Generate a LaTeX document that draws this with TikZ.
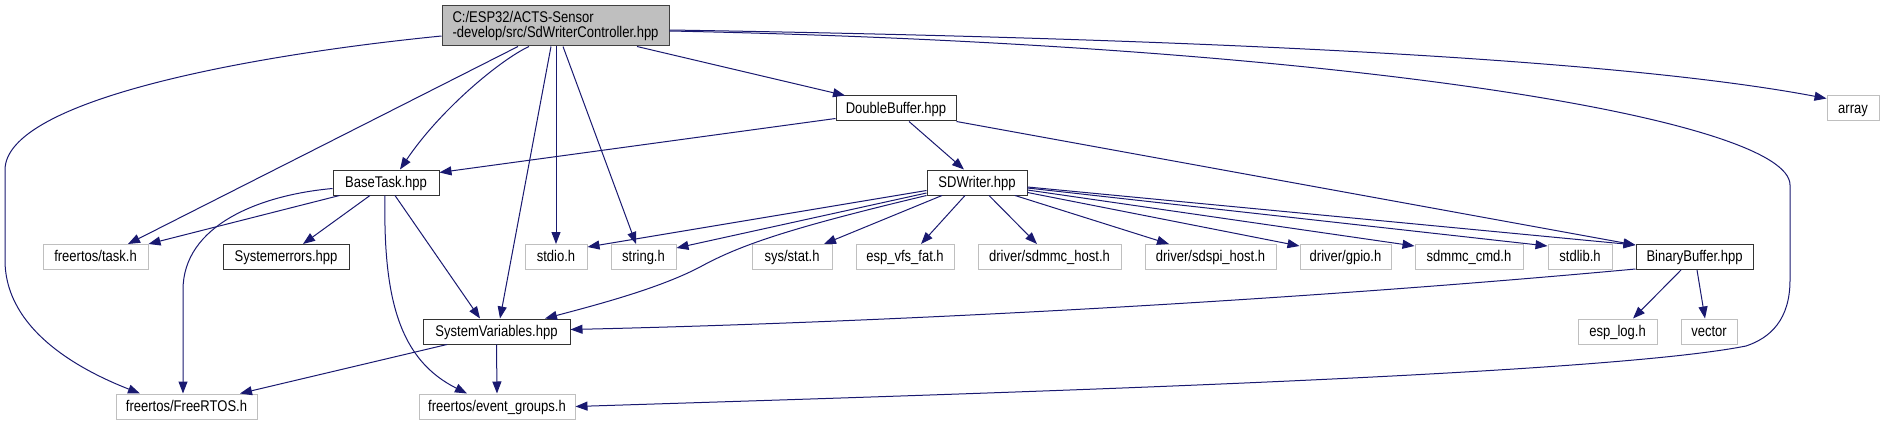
\documentclass[tikz,border=0pt]{standalone}
\usepackage{fontspec}
\newfontfamily\dotfont{Liberation Sans}[FakeStretch=0.84]
\usetikzlibrary{calc,arrows.meta}
\definecolor{edgeblue}{HTML}{191970}
\definecolor{hdrgray}{HTML}{BFBFBF}

\begin{document}
\begin{tikzpicture}[x=1pt,y=-1pt,
  box/.style={draw=hdrgray,line width=1pt,fill=white,inner sep=0pt,minimum height=25pt,
    font=\dotfont\fontsize{15.5}{15.5}\selectfont},
  file/.style={box,text height=11.1pt,text depth=1.5pt},
  own/.style={file,draw=black!80,line width=1pt},
  dep/.style={draw=edgeblue,line width=1pt,-{Triangle[length=12pt,width=9pt]}}]
  \useasboundingbox (0,0) rectangle (1884,425);
  \node[box,draw=black!75,fill=hdrgray,minimum width=227pt,minimum height=40pt,align=left]
    (root) at (555.5,26) {C:/ESP32/ACTS-Sensor\\-develop/src/SdWriterController.hpp};
  \node[own,minimum width=120pt] (dbuf) at (896,108.5) {DoubleBuffer.hpp};
  \node[own,minimum width=106pt] (basetask) at (386,182.5) {BaseTask.hpp};
  \node[own,minimum width=100pt] (sdw) at (977,182.5) {SDWriter.hpp};
  \node[own,minimum width=126pt] (syserr) at (286,257) {Systemerrors.hpp};
  \node[own,minimum width=117pt] (binbuf) at (1694.5,257) {BinaryBuffer.hpp};
  \node[own,minimum width=147pt] (sysvar) at (496.5,331.5) {SystemVariables.hpp};
  \foreach \n/\x/\y/\w/\t in {array/1853/108.5/52/array, taskh/95.5/257/105/{freertos/task.h},
      stdio/556/257/62/stdio.h, string/643.5/257/65/string.h, stat/792/257/80/{sys/stat.h},
      vfs/905/257/98/esp\_vfs\_fat.h, mmchost/1049.5/257/143/{driver/sdmmc\_host.h},
      spihost/1210.5/257/131/{driver/sdspi\_host.h}, gpio/1345.5/257/91/{driver/gpio.h},
      mmccmd/1469/257/108/sdmmc\_cmd.h, stdlib/1580/257/64/stdlib.h,
      esplog/1617.5/331.5/79/esp\_log.h, vector/1709/331.5/56/vector,
      freertos/186.5/406.5/141/{freertos/FreeRTOS.h}, evgroups/497/406.5/156/{freertos/event\_groups.h}}
    \node[file,minimum width=\w pt] (\n) at (\x,\y) {\t};

  \draw[dep] ($(root.east)+(0,4)$) .. controls (1300,40) and (1650,65) .. ($(array.west)+(0,-10)$);
  \draw[dep] ($(root.south)+(81.5,0)$) -- ($(dbuf.north)+(-51,0)$);
  \draw[dep] ($(root.south)+(-26.5,0)$) .. controls (500,60) and (440,110) .. ($(basetask.north)+(14,0)$);
  \draw[dep] ($(root.south)+(-37.5,0)$) -- ($(taskh.north)+(32.5,0)$);
  \draw[dep] ($(root.west)+(0,10)$) .. controls (250,55) and (5,100) .. (5,170) -- (5,260)
    .. controls (5,330) and (80,370) .. ($(freertos.north)+(-46.5,0)$);
  \draw[dep] ($(root.south)+(0.5,0)$) -- (stdio.north);
  \draw[dep] ($(root.south)+(7.5,0)$) -- ($(string.north)+(-7.5,0)$);
  \draw[dep] ($(root.south)+(-4.5,0)$) -- ($(sysvar.north)+(3.5,0)$);
  \draw[dep] ($(root.east)+(0,5)$) .. controls (1350,45) and (1790,120) .. (1790,185) -- (1790,280)
    .. controls (1790,320) and (1770,338) .. (1746,346) .. controls (1600,375) and (1000,393) .. (evgroups.east);

  \draw[dep] ($(dbuf.south west)+(0,-3)$) -- ($(basetask.north east)+(0,3)$);
  \draw[dep] ($(dbuf.south)+(13,0)$) -- ($(sdw.north)+(-13,0)$);
  \draw[dep] (dbuf.south east) -- ($(binbuf.north west)+(0,1)$);

  \draw[dep] ($(basetask.south west)+(7,0)$) -- (taskh.north east);
  \draw[dep] ($(basetask.west)+(0,6)$) .. controls (260,195) and (183,225) .. (183,290) -- ($(freertos.north)+(-3.5,0)$);
  \draw[dep] ($(basetask.south)+(-16,0)$) -- ($(syserr.north)+(17,0)$);
  \draw[dep] ($(basetask.south)+(-1,0)$) .. controls (383,300) and (400,360) .. ($(evgroups.north)+(-30,0)$);
  \draw[dep] ($(basetask.south)+(9,0)$) -- ($(sysvar.north)+(-16.5,0)$);

  \draw[dep] ($(sdw.west)+(0,8)$) -- ($(stdio.north east)+(0,3)$);
  \draw[dep] ($(sdw.west)+(0,10.5)$) -- ($(string.north east)+(0,4)$);
  \draw[dep] (sdw.south west) .. controls (790,228) and (740,245) .. (700,267)
    .. controls (660,288) and (600,304) .. ($(sysvar.north)+(48.5,0)$);
  \draw[dep] ($(sdw.south)+(-35,0)$) -- ($(stat.north)+(32,0)$);
  \draw[dep] ($(sdw.south)+(-12,0)$) -- ($(vfs.north)+(16,0)$);
  \draw[dep] ($(sdw.south)+(12,0)$) -- ($(mmchost.north)+(-12.5,0)$);
  \draw[dep] ($(sdw.south)+(38,0)$) -- ($(spihost.north)+(-41.5,0)$);
  \draw[dep] ($(sdw.south east)+(0,-3)$) -- ($(gpio.north west)+(0,2)$);
  \draw[dep] ($(sdw.east)+(0,7.5)$) -- ($(mmccmd.north west)+(0,2)$);
  \draw[dep] ($(sdw.east)+(0,5.5)$) -- ($(stdlib.north west)+(0,2)$);
  \draw[dep] ($(sdw.east)+(0,4.5)$) -- ($(binbuf.north west)+(0,1)$);

  \draw[dep] ($(binbuf.south west)+(0,-1)$) .. controls (1300,300) and (900,322) .. ($(sysvar.east)+(0,-2)$);
  \draw[dep] ($(binbuf.south)+(-13.5,0)$) -- ($(esplog.north)+(15.5,0)$);
  \draw[dep] ($(binbuf.south)+(2.5,0)$) -- ($(vector.north)+(-4,0)$);
  \draw[dep] ($(sysvar.south)+(-49.5,0)$) -- ($(freertos.north)+(53.5,0)$);
  \draw[dep] (sysvar.south) -- (evgroups.north);
\end{tikzpicture}
\end{document}
